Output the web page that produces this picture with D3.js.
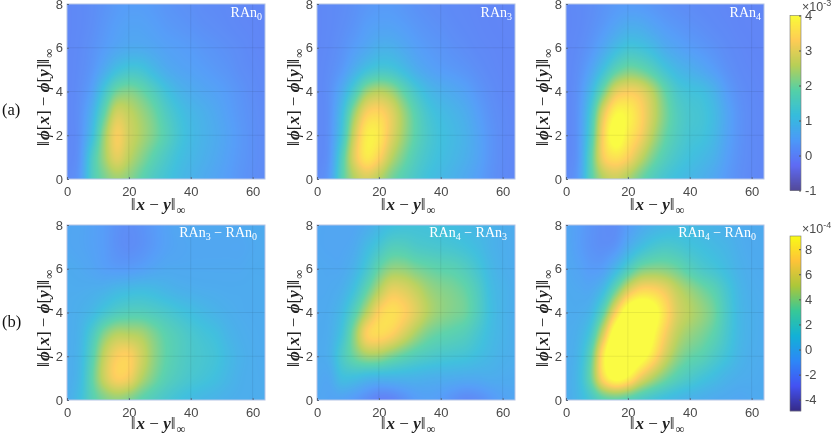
<!DOCTYPE html>
<html>
<head>
<meta charset="utf-8">
<script src="https://cdn.jsdelivr.net/npm/d3@7"></script>
<style>
  html, body { margin: 0; padding: 0; background: #fff; overflow: hidden; }
  #chart { position: relative; width: 831px; height: 434px; }
  #chart canvas { position: absolute; opacity: 0.8; }
  #chart svg { position: absolute; left: 0; top: 0; }
</style>
</head>
<body>
<div id="chart"></div>
<script>
// grid positions of the values below (rows run from y = 8 down to y = 0)
const xValues = [0, 4, 8, 12, 16, 20, 24, 28, 32, 36, 40, 44, 48, 52, 56, 60, 64];
const yValues = [8, 7, 6, 5, 4, 3, 2, 1, 0];
const xTicks = [0, 20, 40, 60];
const yTicks = [0, 2, 4, 6, 8];
const topBarTicks = [-1, 0, 1, 2, 3, 4];
const bottomBarTicks = [-4, -2, 0, 2, 4, 6, 8];

// top row, in units of 1e-3
const ran0 = [
  [.05,.08,.14,.24,.36,.42,.42,.36,.28,.22,.18,.12,.10,.08,.05,.03,.02],
  [.05,.08,.16,.3,.44,.52,.52,.45,.36,.3,.24,.18,.14,.1,.06,.04,.02],
  [.05,.1,.22,.4,.58,.68,.68,.6,.5,.44,.38,.3,.24,.18,.12,.06,.03],
  [.05,.12,.3,.68,1.1,1.3,1.25,.98,.72,.58,.5,.42,.34,.26,.16,.1,.05],
  [.05,.16,.5,1.3,2.0,2.15,1.95,1.6,1.2,.9,.72,.6,.5,.38,.25,.14,.08],
  [.05,.2,.8,1.85,2.8,2.65,2.35,2.0,1.55,1.2,.95,.8,.64,.46,.3,.18,.1],
  [.05,.22,1.05,2.3,3.2,2.8,2.45,2.1,1.7,1.3,1.02,.85,.7,.52,.34,.2,.12],
  [.06,.28,1.45,2.35,3.0,2.6,2.2,1.8,1.45,1.15,.95,.8,.65,.48,.32,.2,.12],
  [.1,.35,1.5,2.05,2.35,2.2,1.85,1.5,1.25,1.02,.85,.7,.56,.42,.28,.18,.1]
];
const ran3 = [
  [.05,.08,.12,.2,.3,.36,.36,.3,.22,.16,.12,.08,.06,.04,.03,.02,.02],
  [.05,.08,.15,.26,.42,.5,.5,.42,.32,.24,.18,.12,.08,.05,.03,.02,.02],
  [.05,.1,.22,.42,.62,.8,.8,.65,.48,.36,.28,.2,.14,.08,.05,.03,.02],
  [.06,.14,.35,.75,1.15,1.35,1.3,1.05,.75,.55,.42,.34,.26,.16,.08,.04,.02],
  [.06,.2,.7,1.5,2.3,2.55,2.35,1.85,1.35,.98,.78,.65,.5,.3,.15,.06,.03],
  [.06,.22,1.05,2.3,3.25,3.4,3.0,2.35,1.75,1.3,1.05,.9,.72,.45,.22,.1,.04],
  [.06,.25,1.25,2.75,3.75,3.7,3.0,2.35,1.8,1.4,1.15,1.0,.82,.55,.28,.12,.05],
  [.07,.3,1.6,2.95,3.7,3.35,2.6,2.05,1.6,1.3,1.1,.95,.78,.55,.28,.12,.05],
  [.1,.4,1.7,2.5,2.85,2.55,2.05,1.7,1.4,1.15,.98,.82,.65,.45,.24,.1,.05]
];
const ran4 = [
  [.05,.08,.14,.24,.34,.38,.36,.3,.22,.16,.12,.08,.06,.04,.03,.02,.02],
  [.05,.08,.18,.34,.55,.72,.7,.55,.4,.3,.22,.16,.1,.06,.03,.02,.02],
  [.05,.12,.3,.62,1.0,1.25,1.2,1.0,.72,.55,.42,.32,.22,.12,.06,.03,.02],
  [.06,.18,.55,1.15,1.75,2.05,1.95,1.65,1.25,.95,.78,.62,.42,.22,.1,.05,.03],
  [.06,.25,.95,2.0,2.95,3.2,3.05,2.55,1.9,1.4,1.2,1.1,.82,.42,.18,.08,.04],
  [.06,.3,1.35,2.95,3.9,3.85,3.4,2.75,2.1,1.6,1.35,1.25,1.0,.58,.25,.1,.05],
  [.06,.32,1.55,3.3,4.25,3.75,3.25,2.55,1.95,1.55,1.3,1.2,.95,.55,.25,.1,.05],
  [.07,.35,1.75,3.2,3.6,3.3,2.7,2.1,1.65,1.35,1.15,1.0,.8,.46,.22,.1,.05],
  [.1,.42,1.7,2.5,2.75,2.45,2.0,1.6,1.3,1.1,.95,.8,.6,.36,.18,.08,.04]
];

// bottom row, in units of 1e-4
const ran3MinusRan0 = [
  [-.4,-.5,-.7,-1.0,-1.5,-1.7,-1.5,-1.1,-.7,-.4,-.3,-.3,-.3,-.3,-.3,-.2,-.2],
  [-.4,-.5,-.7,-1.0,-1.5,-1.7,-1.5,-1.1,-.7,-.5,-.4,-.4,-.4,-.4,-.4,-.3,-.2],
  [-.2,-.3,-.5,-.8,-1.0,-1.0,-.8,-.5,-.3,-.3,-.3,-.3,-.3,-.3,-.3,-.2,-.2],
  [-.1,-.1,0,.2,.6,.8,.9,.75,.45,.2,.05,-.05,-.1,-.15,-.15,-.15,-.15],
  [-.1,.1,.6,1.5,2.2,2.5,2.5,2.2,1.8,1.35,.95,.6,.3,.05,-.1,-.15,-.15],
  [-.1,.3,1.9,3.9,5.0,5.0,4.7,3.8,2.9,2.3,1.75,1.35,1.0,.4,.05,-.1,-.15],
  [-.1,.45,2.6,5.3,6.9,7.1,5.7,4.2,3.1,2.4,1.9,1.6,1.3,.7,.2,-.05,-.15],
  [-.1,.6,3.0,5.5,7.0,6.7,5.0,3.7,2.7,2.1,1.65,1.35,1.0,.5,.1,-.05,-.1],
  [-.05,.9,2.6,3.7,4.2,3.8,3.0,2.3,1.7,1.2,.8,.5,.3,.1,0,-.05,-.1]
];
const ran4MinusRan3 = [
  [-.4,-.45,-.5,-.45,-.1,.5,1.0,1.2,1.25,1.2,1.1,.9,.7,.5,.3,0,-.1],
  [-.4,-.45,-.45,-.2,.7,1.6,2.4,2.4,2.0,1.8,1.65,1.5,1.2,.8,.3,0,-.1],
  [-.3,-.35,-.3,.3,1.6,3.2,4.2,4.2,3.7,3.3,3.0,2.8,2.3,1.5,.6,.1,-.1],
  [-.3,-.25,.1,1.2,3.1,5.0,6.4,6.2,5.4,4.5,4.0,3.7,3.2,2.2,.9,.3,0],
  [-.25,-.1,.7,2.6,5.0,7.1,7.8,7.2,6.1,4.9,4.2,3.8,3.4,2.3,1.0,.3,0],
  [-.2,0,1.3,4.0,7.0,7.6,7.1,5.9,4.6,3.6,3.1,2.8,2.4,1.6,.8,.3,0],
  [-.2,.1,1.9,3.4,4.4,4.4,3.7,3.0,2.4,2.0,1.7,1.5,1.3,.9,.5,.15,0],
  [-.3,-.3,.9,.9,.5,.3,.3,.3,.25,.1,0,-.1,-.2,-.2,-.1,-.15,-.2],
  [-.4,-.6,-.7,-1.1,-1.7,-2.3,-2.2,-1.6,-1.0,-.8,-1.0,-1.5,-1.9,-1.7,-1.2,-.7,-.5]
];
const ran4MinusRan0 = [
  [-.5,-.9,-1.4,-1.7,-1.7,-1.0,-.3,.2,.5,.7,.7,.5,.3,.1,-.1,-.2,-.2],
  [-.4,-.9,-1.4,-1.6,-1.3,-.1,.9,1.6,1.9,1.7,1.3,1.0,.7,.4,0,-.2,-.2],
  [-.3,-.6,-1.0,-.8,.5,2.2,3.6,4.0,3.9,3.4,2.6,1.9,1.4,.8,.2,-.1,-.2],
  [-.2,-.3,-.3,.8,3.4,6.0,7.4,7.4,6.6,5.3,4.4,3.6,2.8,1.6,.5,0,-.1],
  [-.1,-.1,.5,3.0,7.0,10.2,11,9.9,7.8,5.9,5.0,4.3,3.4,1.9,.6,.1,-.1],
  [-.1,.2,1.7,5.8,10.4,12,11.5,9.3,7.0,5.2,4.3,3.7,2.9,1.7,.6,.1,-.1],
  [-.1,.5,3.0,8.2,11.8,11.5,10,8.0,5.8,4.2,3.3,2.8,2.0,1.2,.4,0,-.1],
  [-.1,.7,3.3,7.5,9.5,8.6,6.5,4.9,3.6,2.6,1.9,1.3,.8,.3,0,-.1,-.2],
  [-.1,.5,1.6,2.8,3.1,2.7,2.0,1.4,.9,.5,.2,0,-.2,-.3,-.4,-.3,-.2]
];

const parulaStops = ["#352a87", "#4352f2", "#2d87f7", "#12b1d6", "#37c897", "#abc739", "#fec338", "#f9fb15"];
const parula = d3.piecewise(d3.interpolateRgb, parulaStops);

const topColor = d3.scaleSequential(parula).domain([-1, 4]).clamp(true);
const bottomColor = d3.scaleSequential(parula).domain([-4.9, 9.05]).clamp(true);

const panelWidth = 198;
const panelHeight = 175;
const colLefts = [67, 317, 566];
const rowTops = [4, 225];

const panels = [
  { grid: ran0, color: topColor, col: 0, row: 0, label: [["RAn"], ["0", 1]] },
  { grid: ran3, color: topColor, col: 1, row: 0, label: [["RAn"], ["3", 1]] },
  { grid: ran4, color: topColor, col: 2, row: 0, label: [["RAn"], ["4", 1]] },
  { grid: ran3MinusRan0, color: bottomColor, col: 0, row: 1, label: [["RAn"], ["3", 1], [" \u2212 RAn"], ["0", 1]] },
  { grid: ran4MinusRan3, color: bottomColor, col: 1, row: 1, label: [["RAn"], ["4", 1], [" \u2212 RAn"], ["3", 1]] },
  { grid: ran4MinusRan0, color: bottomColor, col: 2, row: 1, label: [["RAn"], ["4", 1], [" \u2212 RAn"], ["0", 1]] }
];

const x = d3.scaleLinear().domain([0, 64]).range([0, panelWidth]);
const y = d3.scaleLinear().domain([0, 8]).range([panelHeight, 0]);

const chart = d3.select("#chart");
const svg = chart.append("svg").attr("width", 831).attr("height", 434);

// Catmull-Rom through four neighbouring values, keeps the image smooth between grid values
function cubic(a, b, c, d, t) {
  return 0.5 * (2 * b + (c - a) * t + (2 * a - 5 * b + 4 * c - d) * t * t + (3 * b - a - 3 * c + d) * t * t * t);
}

function sample(grid, xv, yv) {
  const fx = (xv - xValues[0]) / (xValues[1] - xValues[0]);
  const fy = (yValues[0] - yv) / (yValues[0] - yValues[1]);
  const cx = Math.min(Math.floor(fx), xValues.length - 2);
  const cy = Math.min(Math.floor(fy), yValues.length - 2);
  const pick = (r, c) => grid[Math.max(0, Math.min(yValues.length - 1, r))][Math.max(0, Math.min(xValues.length - 1, c))];
  const rows = [-1, 0, 1, 2].map(dr =>
    cubic(pick(cy + dr, cx - 1), pick(cy + dr, cx), pick(cy + dr, cx + 1), pick(cy + dr, cx + 2), fx - cx));
  return cubic(rows[0], rows[1], rows[2], rows[3], fy - cy);
}

function drawHeatmap(p, left, top) {
  const canvas = chart.insert("canvas", "svg")
    .attr("width", panelWidth)
    .attr("height", panelHeight)
    .style("left", left + "px")
    .style("top", top + "px")
    .node();
  const ctx = canvas.getContext("2d");
  const img = ctx.createImageData(panelWidth, panelHeight);
  for (let j = 0; j < panelHeight; j++) {
    for (let i = 0; i < panelWidth; i++) {
      const c = d3.rgb(p.color(sample(p.grid, x.invert(i + 0.5), y.invert(j + 0.5))));
      const k = (j * panelWidth + i) * 4;
      img.data[k] = c.r;
      img.data[k + 1] = c.g;
      img.data[k + 2] = c.b;
      img.data[k + 3] = 255;
    }
  }
  ctx.putImageData(img, 0, 0);
}

// mixed text helper for the math labels
function addRuns(text, runs) {
  runs.forEach(r => {
    const t = text.append("tspan").text(r.t);
    if (r.bold) t.attr("font-weight", "bold");
    if (r.italic) t.attr("font-style", "italic");
    if (r.bars) t.attr("letter-spacing", 1);
    if (r.sub) t.attr("font-size", "0.72em").attr("dy", "0.3em");
  });
}

const xTitle = [
  { t: "\u2016", bars: true }, { t: "x", bold: true, italic: true }, { t: " \u2212 " },
  { t: "y", bold: true, italic: true }, { t: "\u2016", bars: true }, { t: "\u221e", sub: true }
];
const yTitle = [
  { t: "\u2016", bars: true }, { t: "\u03d5", bold: true, italic: true }, { t: "[" }, { t: "x", bold: true, italic: true }, { t: "] \u2212 " },
  { t: "\u03d5", bold: true, italic: true }, { t: "[" }, { t: "y", bold: true, italic: true }, { t: "]" }, { t: "\u2016", bars: true }, { t: "\u221e", sub: true }
];

panels.forEach(p => {
  const left = colLefts[p.col];
  const top = rowTops[p.row];
  drawHeatmap(p, left, top);

  const g = svg.append("g").attr("transform", `translate(${left},${top})`);

  // faint grid over the image
  g.append("g").selectAll("line").data(xTicks.slice(1)).enter().append("line")
    .attr("x1", d => x(d)).attr("x2", d => x(d))
    .attr("y1", 0).attr("y2", panelHeight)
    .attr("stroke", "#000").attr("stroke-opacity", 0.07);
  g.append("g").selectAll("line").data(yTicks.slice(1, -1)).enter().append("line")
    .attr("y1", d => y(d)).attr("y2", d => y(d))
    .attr("x1", 0).attr("x2", panelWidth)
    .attr("stroke", "#000").attr("stroke-opacity", 0.07);

  g.append("rect")
    .attr("width", panelWidth).attr("height", panelHeight)
    .attr("fill", "none").attr("stroke", "#b4c4e6").attr("stroke-width", 1);

  const xAxis = g.append("g")
    .attr("transform", `translate(0,${panelHeight})`)
    .call(d3.axisBottom(x).tickValues(xTicks).tickSize(-2).tickPadding(8));
  const yAxis = g.append("g")
    .call(d3.axisLeft(y).tickValues(yTicks).tickSize(-2).tickPadding(4));
  [xAxis, yAxis].forEach(a => {
    a.select(".domain").remove();
    a.selectAll("line").attr("stroke", "#5a6a80");
    a.selectAll("text")
      .attr("font-family", "'Liberation Sans', Arial, sans-serif")
      .attr("font-size", 13)
      .attr("fill", "#4a4a4a");
  });

  const xt = g.append("text")
    .attr("x", panelWidth / 2 - 8)
    .attr("y", panelHeight + (p.row === 0 ? 31 : 29))
    .attr("text-anchor", "middle")
    .attr("font-family", "'Liberation Serif', 'Times New Roman', serif")
    .attr("font-size", 17)
    .attr("fill", "#222");
  addRuns(xt, xTitle);

  const yt = g.append("text")
    .attr("transform", `translate(-18,${panelHeight / 2 + 6}) rotate(-90)`)
    .attr("text-anchor", "middle")
    .attr("font-family", "'Liberation Serif', 'Times New Roman', serif")
    .attr("font-size", 17)
    .attr("fill", "#222");
  addRuns(yt, yTitle);

  // white panel name, top right
  const name = g.append("text")
    .attr("x", panelWidth - (p.row === 0 ? 3 : 8))
    .attr("y", p.row === 0 ? 13 : 12)
    .attr("text-anchor", "end")
    .attr("font-family", "'Liberation Serif', 'Times New Roman', serif")
    .attr("font-size", 14)
    .attr("fill", "#fff");
  p.label.forEach((part, i) => {
    const t = name.append("tspan").text(part[0]);
    if (part[1]) t.attr("font-size", 10).attr("dy", 3);
    else if (i > 0) t.attr("dy", -3);
  });
});

// colorbars
function drawColorbar(top, color, ticks, exponent, exponentY) {
  const barLeft = 790;
  const barWidth = 11;
  const barHeight = 175;
  const scale = d3.scaleLinear().domain(color.domain()).range([barHeight, 0]);
  const g = svg.append("g").attr("transform", `translate(${barLeft},${top})`);

  g.append("g").selectAll("rect").data(d3.range(barHeight)).enter().append("rect")
    .attr("x", 0)
    .attr("y", d => d)
    .attr("width", barWidth)
    .attr("height", 1.2)
    .attr("fill", d => color(scale.invert(d + 0.5)));

  g.append("rect")
    .attr("width", barWidth).attr("height", barHeight)
    .attr("fill", "none").attr("stroke", "#777").attr("stroke-width", 0.6);

  const axis = g.append("g")
    .attr("transform", `translate(${barWidth},0)`)
    .call(d3.axisRight(scale).tickValues(ticks).tickSize(-2).tickPadding(4).tickFormat(d3.format("d")));
  axis.select(".domain").remove();
  axis.selectAll("line").attr("stroke", "#555");
  axis.selectAll("text")
    .attr("font-family", "'Liberation Sans', Arial, sans-serif")
    .attr("font-size", 13)
    .attr("fill", "#4a4a4a")
    .text(d => String(d));

  const ex = g.append("text")
    .attr("x", 12)
    .attr("y", exponentY)
    .attr("font-family", "'Liberation Sans', Arial, sans-serif")
    .attr("font-size", 12.5)
    .attr("fill", "#4a4a4a");
  ex.append("tspan").text("\u00d710");
  ex.append("tspan").attr("font-size", 9).attr("dy", -5).text(exponent);
}

drawColorbar(15.5, topColor, topBarTicks, "-3", -4.5);
drawColorbar(236, bottomColor, bottomBarTicks, "-4", -3);

// row letters
[["(a)", 115], ["(b)", 327]].forEach(d => {
  svg.append("text")
    .attr("x", 2)
    .attr("y", d[1])
    .attr("font-family", "'Liberation Serif', 'Times New Roman', serif")
    .attr("font-size", 16.5)
    .attr("fill", "#111")
    .text(d[0]);
});
</script>
</body>
</html>
